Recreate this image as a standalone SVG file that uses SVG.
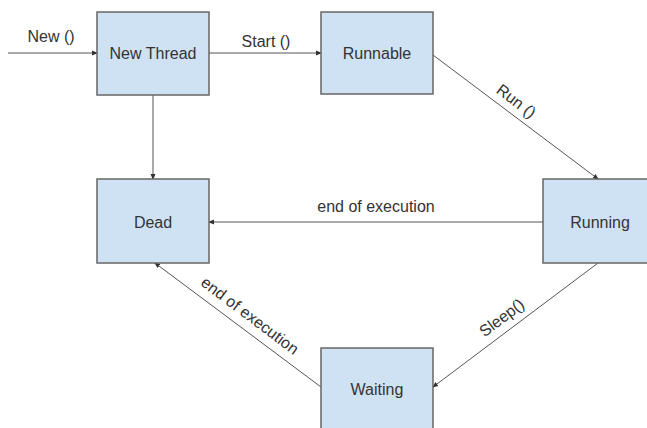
<svg xmlns="http://www.w3.org/2000/svg" width="647" height="428" viewBox="0 0 647 428">
<style>
.node rect{fill:#cfe2f3;stroke:#666;stroke-width:1.5}
text{font-family:"Liberation Sans",Arial,sans-serif;font-size:16px;fill:#333}
.node text{text-anchor:middle}
.lbl{text-anchor:middle}
.edge{stroke:#555;stroke-width:1;fill:none;marker-end:url(#arr)}
</style>
<defs>
<marker id="arr" markerUnits="userSpaceOnUse" markerWidth="6" markerHeight="6" refX="5" refY="3" orient="auto">
<path d="M0,0.5 L6,3 L0,5.5 z" fill="#333"/>
</marker>
</defs>
<g id="connectors">
<line class="edge" x1="8" y1="53" x2="97" y2="53"/>
<line class="edge" x1="209" y1="53" x2="321" y2="53"/>
<line class="edge" x1="433" y1="55" x2="598" y2="179"/>
<line class="edge" x1="543" y1="222" x2="209" y2="222"/>
<line class="edge" x1="153" y1="95" x2="153" y2="179"/>
<line class="edge" x1="598" y1="263" x2="433" y2="387"/>
<line class="edge" x1="321" y1="387" x2="155" y2="263"/>
<text class="lbl" x="51" y="42">New ()</text>
<text class="lbl" x="266" y="47">Start ()</text>
<text class="lbl" transform="translate(516,101.5) rotate(37)" x="0" y="5">Run ()</text>
<text class="lbl" x="376" y="212">end of execution</text>
<text class="lbl" transform="translate(502,318) rotate(-37)" x="0" y="5">Sleep()</text>
<text class="lbl" transform="translate(249,316.7) rotate(37)" x="0" y="4">end of execution</text>
</g>
<g id="node-newthread" class="node"><rect x="97" y="12" width="112" height="83"/><text x="153" y="59">New Thread</text></g>
<g id="node-runnable" class="node"><rect x="321" y="12" width="112" height="82"/><text x="377" y="59">Runnable</text></g>
<g id="node-dead" class="node"><rect x="97" y="179" width="112" height="84"/><text x="153" y="228">Dead</text></g>
<g id="node-running" class="node"><rect x="543" y="179" width="112" height="84"/><text x="600" y="228">Running</text></g>
<g id="node-waiting" class="node"><rect x="321" y="348" width="112" height="84"/><text x="377" y="395">Waiting</text></g>
</svg>
